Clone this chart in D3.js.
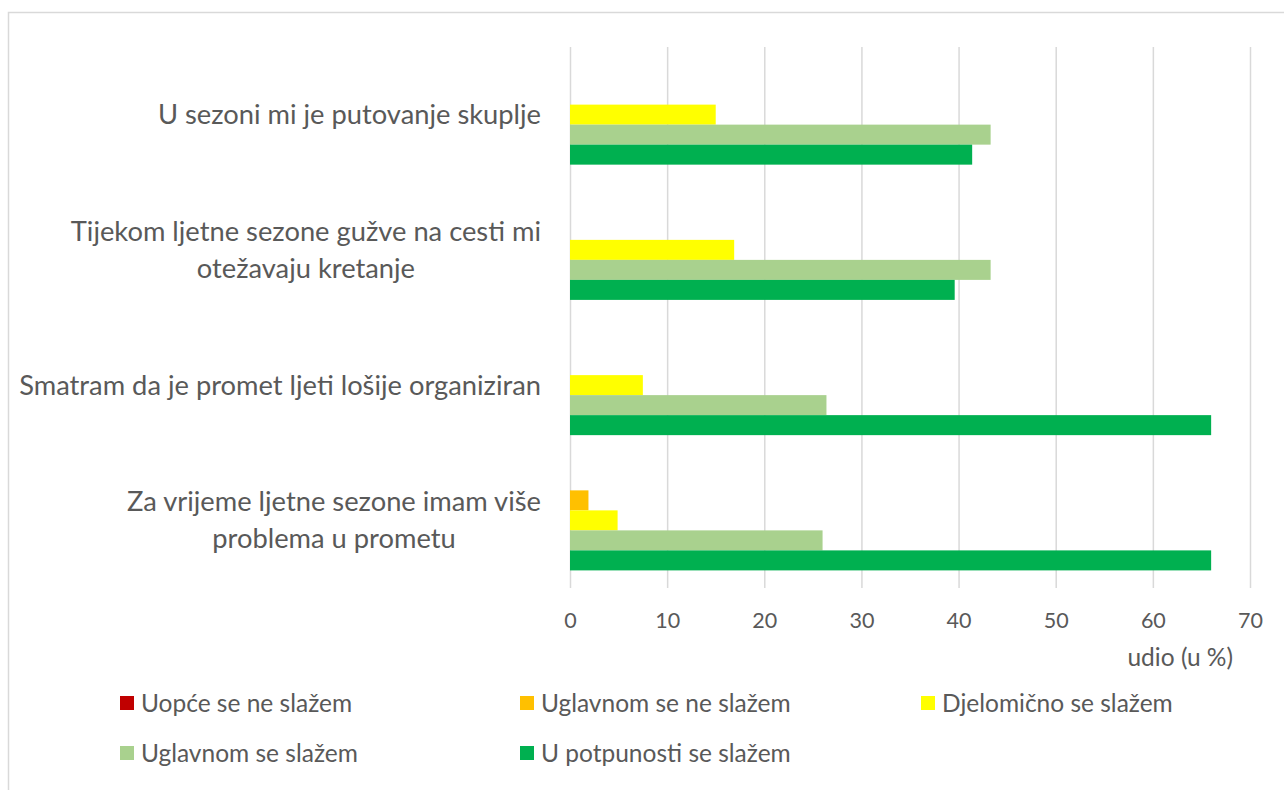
<!DOCTYPE html>
<html lang="hr">
<head>
<meta charset="UTF-8">
<title>Stavovi o prometu tijekom ljetne sezone</title>
<script src="https://d3js.org/d3.v7.min.js"></script>
<style>
    body { margin: 0; background: #fff; font-family: Lato, "Open Sans", sans-serif; }
    text { fill: #595959; }
</style>
</head>
<body>
<div id="chart"></div>
<script>
// categories, top to bottom (each entry = lines of the label)
const categories = [
    ["U sezoni mi je putovanje skuplje"],
    ["Tijekom ljetne sezone gužve na cesti mi", "otežavaju kretanje"],
    ["Smatram da je promet ljeti lošije organiziran"],
    ["Za vrijeme ljetne sezone imam više", "problema u prometu"]
];
const seriesNames = ["Uopće se ne slažem", "Uglavnom se ne slažem", "Djelomično se slažem",
                     "Uglavnom se slažem", "U potpunosti se slažem"];
const seriesColors = ["#C00000", "#FFC000", "#FFFF00", "#A9D18E", "#00B050"];
// values per series, in category order
const disagree     = [0, 0, 0, 0];
const mostlyNot    = [0, 0, 0, 1.9];
const partly       = [15.0, 16.9, 7.5, 4.9];
const mostlyAgree  = [43.3, 43.3, 26.4, 26.0];
const fullyAgree   = [41.4, 39.6, 66.0, 66.0];
const xTicks = [0, 10, 20, 30, 40, 50, 60, 70];
const xTitle = "udio (u %)";

const seriesValues = [disagree, mostlyNot, partly, mostlyAgree, fullyAgree];

const W = 1284, H = 790;
const plot = {left: 570, right: 1250, top: 47, bottom: 588};

const svg = d3.select("#chart").append("svg")
    .attr("width", W).attr("height", H);

// chart area border
svg.append("rect")
    .attr("x", 8.5).attr("y", 12.5)
    .attr("width", W + 20).attr("height", H + 20)
    .attr("fill", "none").attr("stroke", "#d9d9d9").attr("stroke-width", 1.5);

const x = d3.scaleLinear().domain([0, 70]).range([plot.left, plot.right]);
const y0 = d3.scaleBand().domain(d3.range(categories.length))
    .range([plot.top, plot.bottom]);
const y1 = d3.scaleBand().domain(d3.range(seriesNames.length))
    .range([0, y0.bandwidth()]).paddingOuter(0.88);

// gridlines
svg.append("g")
    .attr("transform", `translate(0,${plot.bottom})`)
    .call(d3.axisBottom(x).tickValues(xTicks).tickSize(-(plot.bottom - plot.top)).tickFormat(""))
    .call(g => g.select(".domain").remove())
    .call(g => g.selectAll("line").attr("stroke", "#d9d9d9").attr("stroke-width", 1.5));

// tick labels
svg.append("g")
    .attr("transform", `translate(0,${plot.bottom})`)
    .call(d3.axisBottom(x).tickValues(xTicks).tickSize(0).tickPadding(25))
    .call(g => g.select(".domain").remove())
    .call(g => g.selectAll("text")
        .attr("font-family", "Lato, sans-serif")
        .attr("font-size", 21.5).style("fill", "#595959"));

svg.append("text")
    .attr("x", 1233).attr("y", 666)
    .attr("text-anchor", "end")
    .attr("font-size", 24.5)
    .text(xTitle);

// bars
const groups = svg.append("g").selectAll("g")
    .data(categories)
    .join("g")
    .attr("transform", (d, i) => `translate(0,${y0(i)})`);

groups.selectAll("rect")
    .data((d, i) => seriesValues.map((vals, s) => ({s, v: vals[i]})))
    .join("rect")
    .attr("x", x(0))
    .attr("y", d => y1(d.s))
    .attr("width", d => x(d.v) - x(0))
    .attr("height", y1.bandwidth())
    .attr("fill", d => seriesColors[d.s]);

// category labels: block right-aligned, lines centred on each other
const labelRight = 541, lineGap = 37;
groups.each(function(lines, i) {
    const g = d3.select(this);
    const cy = y0.bandwidth() / 2;
    const t = g.append("text")
        .attr("font-size", 27.3)
        .attr("text-anchor", "middle");
    const spans = t.selectAll("tspan").data(lines).join("tspan")
        .attr("y", (d, k) => cy + (k - (lines.length - 1) / 2) * lineGap)
        .attr("dy", "0.35em")
        .text(d => d);
    let maxW = 0;
    spans.each(function() { maxW = Math.max(maxW, this.getComputedTextLength()); });
    spans.attr("x", labelRight - maxW / 2);
});

// legend
const legendPos = [[120, 703], [520, 703], [921, 703], [120, 753], [520, 753]];
const legend = svg.append("g").selectAll("g")
    .data(seriesNames)
    .join("g")
    .attr("transform", (d, i) => `translate(${legendPos[i][0]},${legendPos[i][1]})`);
legend.append("rect")
    .attr("x", 0).attr("y", -7).attr("width", 14).attr("height", 14)
    .attr("fill", (d, i) => seriesColors[i]);
legend.append("text")
    .attr("x", 21).attr("dy", "0.35em")
    .attr("font-size", 24.5)
    .text(d => d);
</script>
</body>
</html>
